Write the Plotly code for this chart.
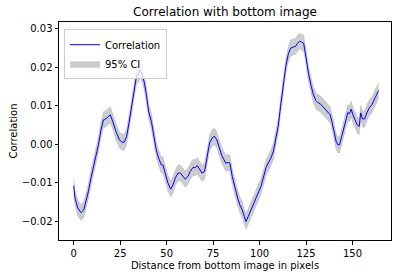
import plotly.graph_objects as go

distance = [0, 0.7, 2.2, 3.9, 5.4, 6.6, 7.9, 9.3, 10.8, 12, 13.3, 14.7, 16, 17.4, 18.7, 19.7,
            21, 22.7, 24.6, 26, 27.2, 28.5, 29.9, 31.3, 32.6, 33.9, 34.8, 35.7, 36.6, 38,
            39.2, 40.3, 41.8, 43, 44.4, 45.7, 47.1, 48, 49.3, 50.7, 52.2, 53.4, 54.7, 56.1,
            57.4, 58.8, 60, 61.5, 62.7, 64.1, 65.4, 66.5, 67.7, 69, 70.4, 71.7, 73.1, 74.6,
            75.8, 77, 78.5, 79.7, 80.8, 81.7, 83.2, 84, 85.3, 86.7, 88.2, 89.4, 90.7, 91.8,
            92.7, 93.9, 95.3, 96.6, 98, 99.3, 100.7, 102, 103.4, 104.7, 106.1, 107.4, 108.6,
            110, 111.3, 112.7, 114.1, 115.4, 116.7, 118.1, 119.4, 120.4, 121.5, 122.6, 123.7,
            124.9, 126.3, 127.8, 129, 130.3, 131.3, 132.6, 133.9, 135.3, 136.7, 138, 138.9,
            140.2, 141.2, 142.1, 143, 144.2, 145.5, 146.6, 147.5, 148.4, 149.3, 150.2, 151.5,
            152.5, 153.6, 154.4, 155.4, 156.5, 157.7, 159, 160.4, 161.8, 163.1, 164]

correlation = [-0.0108, -0.0140, -0.0166, -0.0178, -0.0171, -0.0149, -0.0123, -0.0088, -0.0058,
               -0.0036, -0.0002, 0.0037, 0.0063, 0.0066, 0.0072, 0.0076, 0.0059, 0.0033, 0.0011,
               0.0005, 0.0005, 0.0020, 0.0059, 0.0102, 0.0145, 0.0180, 0.0180, 0.0193, 0.0184,
               0.0160, 0.0125, 0.0085, 0.0059, 0.0024, -0.0015, -0.0036, -0.0054, -0.0054,
               -0.0080, -0.0101, -0.0117, -0.0106, -0.0088, -0.0075, -0.0075, -0.0084, -0.0091,
               -0.0084, -0.0071, -0.0061, -0.0061, -0.0056, -0.0067, -0.0075, -0.0071, -0.0036,
               0.0003, 0.0017, 0.0020, 0.0011, -0.0015, -0.0030, -0.0040, -0.0049, -0.0048,
               -0.0049, -0.0084, -0.0114, -0.0140, -0.0158, -0.0171, -0.0188, -0.0201, -0.0188,
               -0.0171, -0.0158, -0.0140, -0.0127, -0.0110, -0.0088, -0.0062, -0.0049, -0.0036,
               -0.0019, 0.0007, 0.0046, 0.0098, 0.0154, 0.0202, 0.0232, 0.0249, 0.0252, 0.0254,
               0.0262, 0.0267, 0.0265, 0.0262, 0.0228, 0.0184, 0.0150, 0.0128, 0.0113, 0.0108,
               0.0105, 0.0098, 0.0091, 0.0085, 0.0076, 0.0059, 0.0029, 0.0007, -0.0002, -0.0002,
               0.0020, 0.0046, 0.0068, 0.0082, 0.0079, 0.0091, 0.0076, 0.0059, 0.0050, 0.0046,
               0.0081, 0.0065, 0.0065, 0.0081, 0.0094, 0.0102, 0.0115, 0.0128, 0.0139]

ci_half_width = 0.0021
ci_lower = [v - ci_half_width for v in correlation]
ci_upper = [v + ci_half_width for v in correlation]

x_ticks = [0, 25, 50, 75, 100, 125, 150]
y_ticks = [-0.02, -0.01, 0.0, 0.01, 0.02, 0.03]

font = "DejaVu Sans"

fig = go.Figure()
fig.add_trace(go.Scatter(x=distance, y=ci_upper, mode="lines",
                         line=dict(width=0.5, color="rgba(128,128,128,0.4)"),
                         showlegend=False, hoverinfo="skip"))
fig.add_trace(go.Scatter(x=distance, y=ci_lower, mode="lines",
                         line=dict(width=0.5, color="rgba(128,128,128,0.4)"),
                         fill="tonexty", fillcolor="rgba(128,128,128,0.4)",
                         name="95% CI", legendrank=2))
fig.add_trace(go.Scatter(x=distance, y=correlation, mode="lines",
                         line=dict(color="#0000ff", width=1), name="Correlation",
                         legendrank=1))

axis_common = dict(showgrid=False, zeroline=False, showline=True, linecolor="black",
                   linewidth=1, mirror=True, ticks="outside", ticklen=3.5, tickwidth=0.8,
                   tickcolor="black", tickfont=dict(family=font, size=10, color="black"))

fig.update_layout(
    width=400, height=278,
    margin=dict(l=59, r=9, t=22, b=38),
    paper_bgcolor="white", plot_bgcolor="white",
    font=dict(family=font, size=10, color="black"),
    title=dict(text="Correlation with bottom image", x=0.5625, xanchor="center",
               y=1 - 12 / 278, yanchor="middle", font=dict(family=font, size=12, color="black")),
    xaxis=dict(range=[-7.9, 170.7], tickvals=x_ticks,
               title=dict(text="Distance from bottom image in pixels", standoff=4,
                          font=dict(family=font, size=10)), **axis_common),
    yaxis=dict(range=[-0.0249, 0.0317], tickvals=y_ticks, tickformat=".2f",
               title=dict(text="Correlation", standoff=2, font=dict(family=font, size=10)),
               **axis_common),
    legend=dict(x=0.015, y=0.967, xanchor="left", yanchor="top", traceorder="normal",
                bgcolor="rgba(255,255,255,0.8)", bordercolor="#cccccc", borderwidth=1,
                font=dict(family=font, size=10), tracegroupgap=0, itemwidth=30),
    showlegend=True,
)

fig.write_html("out.html")
